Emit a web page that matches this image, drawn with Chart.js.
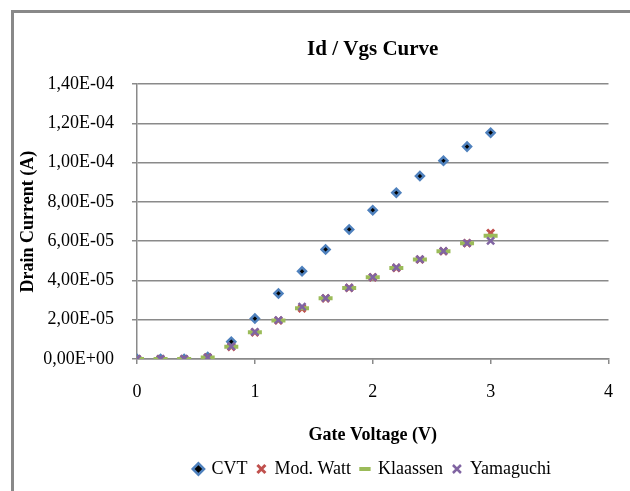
<!DOCTYPE html>
<html>
<head>
<meta charset="utf-8">
<script src="https://cdn.jsdelivr.net/npm/chart.js@4/dist/chart.umd.min.js"></script>
<style>
  html, body { margin: 0; padding: 0; background: #fff; overflow: hidden; }
  #frame { position: absolute; left: 11px; top: 10px; width: 700px; height: 600px; border: 3px solid #898989; }
  #chart { position: absolute; left: 0; top: 0; }
</style>
</head>
<body>
<div id="frame"></div>
<canvas id="chart" width="630" height="491"></canvas>
<script>
// Id / Vgs curve
const gateVoltage = [0, 0.2, 0.4, 0.6, 0.8, 1.0, 1.2, 1.4, 1.6, 1.8, 2.0, 2.2, 2.4, 2.6, 2.8, 3.0]

const cvt = [0, 0, 0, 1.0e-6, 8.8e-6, 2.06e-5, 3.34e-5, 4.47e-5, 5.58e-5, 6.6e-5, 7.58e-5, 8.47e-5, 9.32e-5, 1.01e-4, 1.082e-4, 1.153e-4]
const modWatt = [0, 0, 0, 0.8e-6, 6.2e-6, 1.36e-5, 1.96e-5, 2.58e-5, 3.09e-5, 3.62e-5, 4.16e-5, 4.64e-5, 5.07e-5, 5.49e-5, 5.9e-5, 6.42e-5]
const klaassen = [0, 0, 0, 0.8e-6, 6.2e-6, 1.36e-5, 1.96e-5, 2.58e-5, 3.09e-5, 3.62e-5, 4.16e-5, 4.64e-5, 5.07e-5, 5.49e-5, 5.9e-5, 6.28e-5]
const yamaguchi = [0, 0, 0, 0.8e-6, 6.4e-6, 1.38e-5, 1.98e-5, 2.67e-5, 3.1e-5, 3.63e-5, 4.17e-5, 4.66e-5, 5.08e-5, 5.5e-5, 5.9e-5, 6.02e-5]

const xTicks = [0, 1, 2, 3, 4]
const yMax = 1.4e-4
const yStep = 2e-5

const FONT = 'Liberation Serif'
const GRID = '#8a8a8a'

Chart.defaults.font.family = FONT
Chart.defaults.color = '#000'

function pts(ys) {
  return gateVoltage.map((x, i) => ({ x, y: ys[i] }))
}

// Excel style: 1,40E-04
function sci(v) {
  const [m, e] = Number(v).toExponential(2).split('e')
  const n = parseInt(e)
  return m.replace('.', ',') + 'E' + (n < 0 ? '-' : '+') + String(Math.abs(n)).padStart(2, '0')
}

const datasets = [
  {
    label: 'CVT', data: pts(cvt), order: 3,
    pointStyle: 'rectRot', pointRadius: 4, borderWidth: 2.5,
    backgroundColor: '#000', borderColor: '#4F81BD'
  },
  {
    label: 'Mod. Watt', data: pts(modWatt), order: 2,
    pointStyle: 'crossRot', pointRadius: 5, borderWidth: 3,
    backgroundColor: '#C0504D', borderColor: '#C0504D'
  },
  {
    label: 'Klaassen', data: pts(klaassen), order: 1,
    pointStyle: 'line', pointRadius: 7, borderWidth: 4,
    backgroundColor: '#9BBB59', borderColor: '#9BBB59'
  },
  {
    label: 'Yamaguchi', data: pts(yamaguchi), order: 0,
    pointStyle: 'crossRot', pointRadius: 5, borderWidth: 2.5,
    backgroundColor: '#8064A2', borderColor: '#8064A2'
  }
]

new Chart(document.getElementById('chart'), {
  type: 'scatter',
  data: { datasets },
  options: {
    responsive: false,
    animation: false,
    layout: { padding: { left: 0, right: 18, top: 0, bottom: 3 } },
    scales: {
      x: {
        type: 'linear', min: 0, max: 4,
        afterBuildTicks: (s) => { s.ticks = xTicks.map(v => ({ value: v })) },
        afterFit: (s) => { s.height = 91 },
        grid: { drawOnChartArea: false, drawTicks: true, tickLength: 5, color: GRID, lineWidth: 1.5 },
        border: { color: GRID, width: 1.5 },
        ticks: { color: '#000', padding: 17, font: { family: FONT, size: 18 } },
        title: {
          display: true, text: 'Gate Voltage (V)', color: '#000',
          padding: { top: 0, bottom: 4 },
          font: { family: FONT, size: 18, weight: 'bold' }
        }
      },
      y: {
        type: 'linear', min: 0, max: yMax,
        ticks: { stepSize: yStep, color: '#000', padding: 18, callback: sci, font: { family: FONT, size: 18 } },
        afterFit: (s) => { s.width = 137 },
        grid: { color: GRID, lineWidth: 1.5, tickLength: 5 },
        border: { color: GRID, width: 1.5 },
        title: {
          display: true, text: 'Drain Current (A)', color: '#000',
          padding: { top: 18, bottom: 0 },
          font: { family: FONT, size: 18, weight: 'bold' }
        }
      }
    },
    plugins: {
      title: {
        display: true, text: 'Id / Vgs Curve', color: '#000',
        fullSize: false,
        padding: { top: 37, bottom: 22 },
        font: { family: FONT, size: 21, weight: 'bold' }
      },
      legend: {
        position: 'bottom',
        fullSize: false,
        labels: {
          usePointStyle: true, boxWidth: 8, boxHeight: 8, padding: 10,
          color: '#000', font: { family: FONT, size: 18 },
          sort: (a, b) => a.datasetIndex - b.datasetIndex
        }
      },
      tooltip: { enabled: false }
    }
  }
})
</script>
</body>
</html>
